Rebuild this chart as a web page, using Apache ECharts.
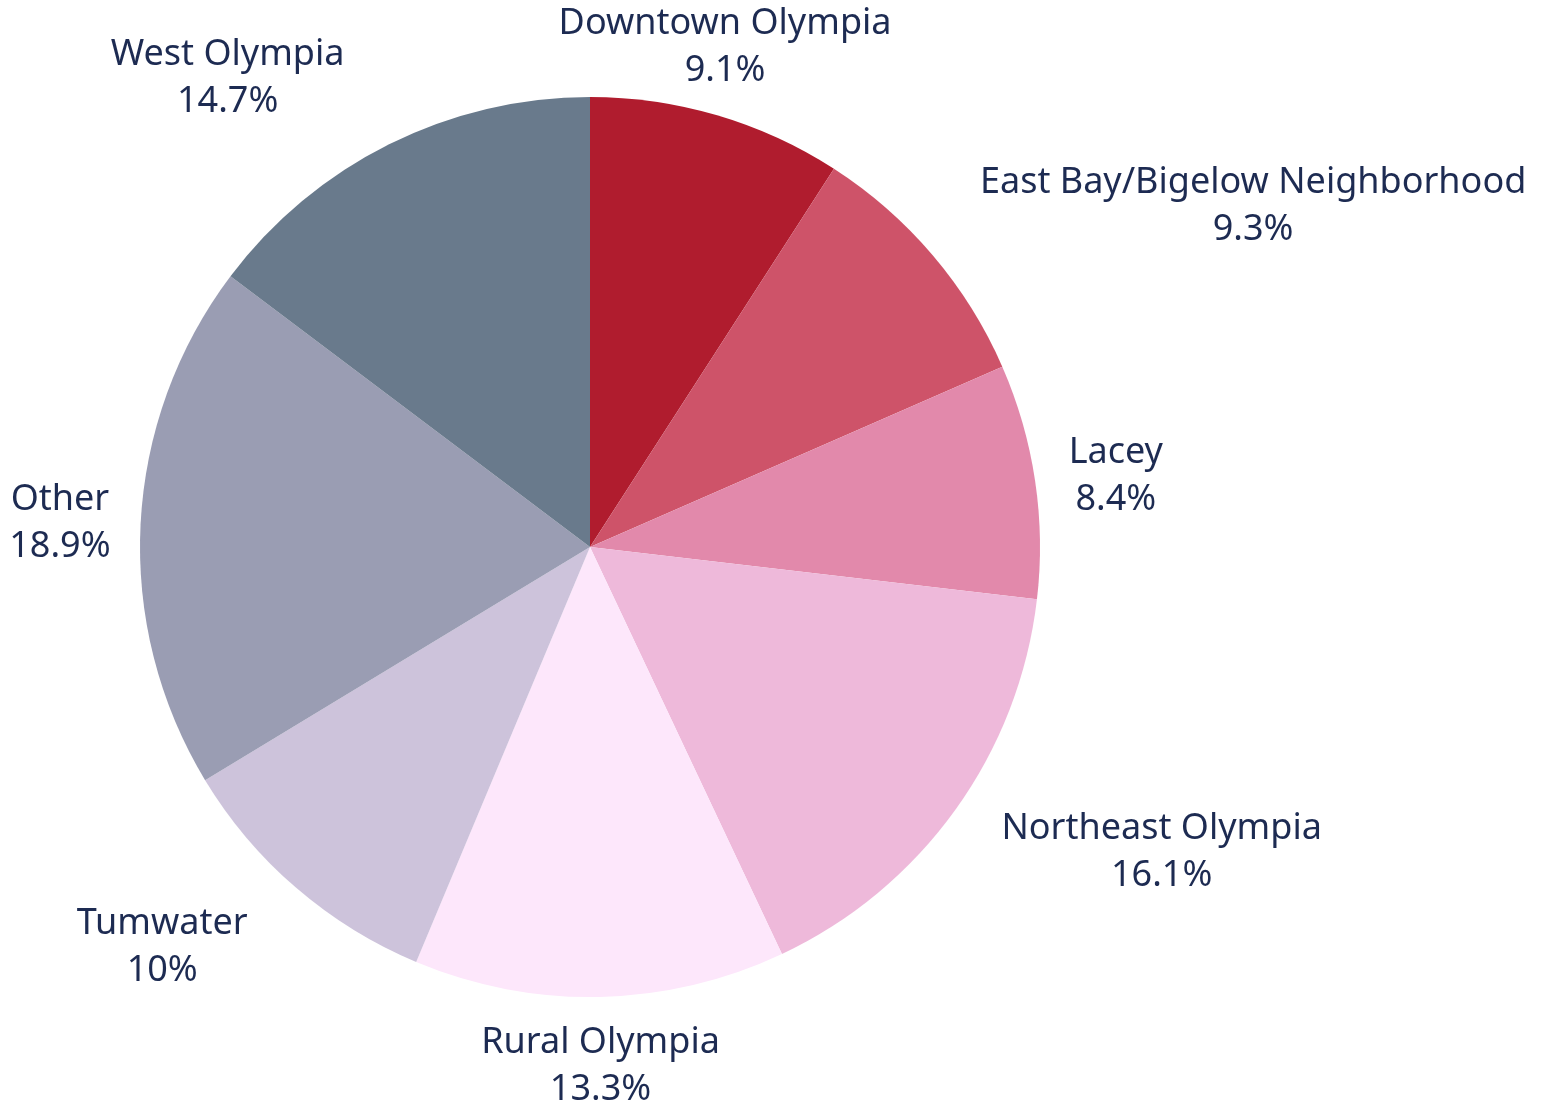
<!DOCTYPE html>
<html>
<head>
<meta charset="utf-8">
<title>Pie</title>
<script src="https://cdn.jsdelivr.net/npm/echarts@6/dist/echarts.min.js"></script>
<style>
  html, body { margin: 0; padding: 0; background: #ffffff; }
  #chart { width: 1557px; height: 1116px; }
</style>
</head>
<body>
<div id="chart"></div>
<script>
// 数据
const categories = ['Downtown Olympia', 'East Bay/Bigelow Neighborhood', 'Lacey', 'Northeast Olympia',
  'Rural Olympia', 'Tumwater', 'Other', 'West Olympia'];
const shares = [9.1, 9.3, 8.4, 16.1, 13.3, 10, 18.9, 14.7];
const colorList = ['#B01C2E', '#CE5369', '#E289AB', '#EEB9DA', '#FDE7FB', '#CDC3DB', '#9A9DB3', '#697A8C'];

const CX = 590, CY = 547, R = 450, GAP = 28;
const textColor = '#1D2B52';

// 每块的中间角度 (从12点方向顺时针)
const total = shares.reduce((a, b) => a + b, 0);
const midAngles = [];
let acc = 0;
shares.forEach(v => {
  midAngles.push((acc + v / 2) / total * Math.PI * 2);
  acc += v;
});
const clamp01 = v => Math.max(0, Math.min(1, v));

const chart = echarts.init(document.getElementById('chart'));
const seriesData = categories.map((name, i) => ({
  name: name,
  value: shares[i],
  itemStyle: { color: colorList[i] }
}));

const option = {
  backgroundColor: '#ffffff',
  animation: false,
  series: [
    {
      type: 'pie',
      center: [CX, CY],
      radius: R,
      startAngle: 90,
      clockwise: true,
      avoidLabelOverlap: false,
      data: seriesData,
      label: {
        show: true,
        position: 'outside',
        formatter: function (p) {
          return '{n|' + p.name + '}\n{n|' + p.value + '%}';
        },
        rich: {
          n: {
            align: 'center',
            fontFamily: 'Noto Sans',
            fontSize: 36,
            lineHeight: 47,
            color: textColor
          }
        }
      },
      labelLine: { show: false },
      // 标签放在扇区外侧, 上下居中, 左右对齐
      labelLayout: function (p) {
        const a = midAngles[p.dataIndex];
        const dx = Math.sin(a), dy = -Math.cos(a);
        const w = p.labelRect.width / 2, h = p.labelRect.height / 2;
        const sx = Math.sign(dx) * clamp01((Math.abs(dx) - 0.3) / 0.15);
        const sy = Math.sign(dy) * clamp01((Math.abs(dy) - 0.2) / 0.6);
        return {
          x: CX + (R + GAP) * dx + w * sx + 40 * sx * Math.abs(dy),
          y: CY + (R + GAP) * dy + h * sy,
          align: 'center',
          verticalAlign: 'middle'
        };
      }
    }
  ]
};
chart.setOption(option);
</script>
</body>
</html>
